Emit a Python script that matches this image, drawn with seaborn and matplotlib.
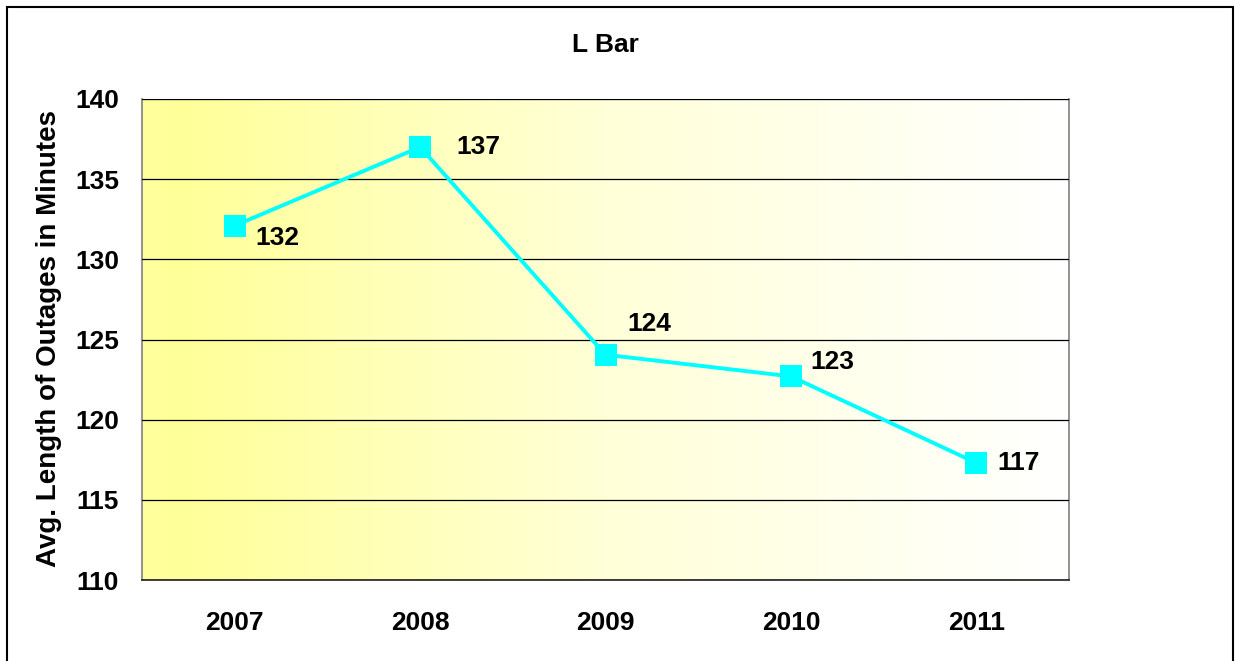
import numpy as np
import pandas as pd
import matplotlib
matplotlib.use("Agg")
import matplotlib.pyplot as plt
import seaborn as sns
from matplotlib.colors import LinearSegmentedColormap
from matplotlib.patches import Rectangle

years = ["2007", "2008", "2009", "2010", "2011"]
values = [132.1, 137.0, 124.05, 122.7, 117.3]
labels = ["132", "137", "124", "123", "117"]
title = "L Bar"
ylabel = "Avg. Length of Outages in Minutes"

sns.set_style("white")
plt.rcParams['font.family'] = ['Liberation Sans', 'DejaVu Sans']
plt.rcParams['font.weight'] = 'bold'
plt.rcParams['text.color'] = 'black'
plt.rcParams['axes.labelcolor'] = 'black'
plt.rcParams['xtick.color'] = 'black'
plt.rcParams['ytick.color'] = 'black'

fig = plt.figure(figsize=(12.35, 6.61), dpi=100)
ax = fig.add_axes([142/1235, 1 - 580/661, (1069-142)/1235, (580-99)/661])

# gradient background
cmap = LinearSegmentedColormap.from_list(
    "yw", [(0.0, "#FFFF9E"), (0.04, "#FFFF99"), (0.5, "#FFFFD8"), (1.0, "#FFFFFF")], N=256)
grad = np.linspace(0, 1, 256).reshape(1, -1)
ax.imshow(grad, aspect="auto", cmap=cmap, extent=[-0.5, 4.5, 110, 140], zorder=0)

df = pd.DataFrame({"x": np.arange(len(years)), "y": values})
sns.lineplot(data=df, x="x", y="y", ax=ax, color="#00FFFF", linewidth=2.8,
             marker="s", markersize=16, markeredgewidth=0, zorder=3)

offsets = [(15, -9), (26, 0), (16, 22), (14, 10), (15, 0)]
for i, (v, lab) in enumerate(zip(values, labels)):
    dx, dy = offsets[i]
    ax.annotate(lab, (i, v), xytext=(dx, dy), textcoords="offset points",
                ha="left", va="center", fontsize=19, fontweight="bold", zorder=4)

ax.set_xlim(-0.5, 4.5)
ax.set_ylim(110, 140)
ax.set_yticks(np.arange(110, 141, 5))
ax.set_yticklabels([str(t) for t in range(110, 141, 5)], fontsize=19, fontweight="bold")
ax.set_xticks(np.arange(len(years)))
ax.set_xticklabels(years, fontsize=19, fontweight="bold")
ax.set_xticks(np.arange(-0.5, 4.6, 1), minor=True)
ax.tick_params(axis="x", which="major", length=0, pad=22)
ax.tick_params(axis="x", which="minor", length=6.5, width=1, color="#404040", direction="out")
ax.tick_params(axis="y", length=6.5, width=1, color="#404040", direction="out", pad=10)
ax.grid(axis="y", color="black", linewidth=0.9, zorder=1)
ax.set_axisbelow(False)
for g in ax.get_ygridlines():
    g.set_zorder(1)
ax.set_xlabel("")
ax.set_ylabel(ylabel, fontsize=20, fontweight="bold")
ax.yaxis.set_label_coords((49 - 142) / 927, 0.502)
ax.yaxis.label.set_verticalalignment("center")
for s in ["left", "right"]:
    ax.spines[s].set_color("#808080")
    ax.spines[s].set_linewidth(1.2)
ax.spines["top"].set_color("#808080")
ax.spines["bottom"].set_color("#202020")
ax.spines["bottom"].set_linewidth(1.2)

fig.text((142+1069)/2/1235, 1 - 45/661, title, ha="center", va="center",
         fontsize=19, fontweight="bold")

fig.patches.append(Rectangle((7/1235, -0.05), (1233-7)/1235, 1.05 - 7/661,
                             transform=fig.transFigure, fill=False,
                             edgecolor="black", linewidth=1.5))

fig.savefig("out.png", dpi=100)
